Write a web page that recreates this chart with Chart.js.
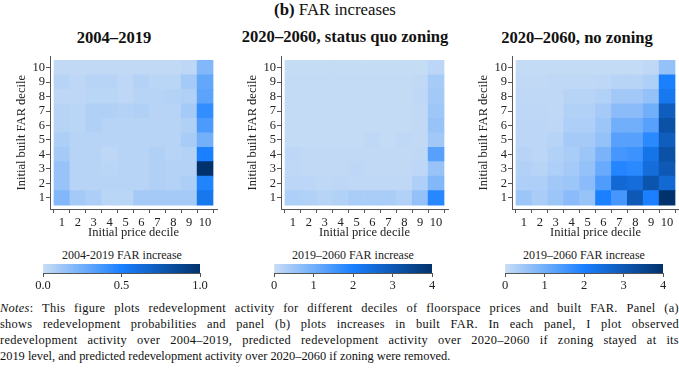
<!DOCTYPE html>
<html><head><meta charset="utf-8">
<script src="https://cdn.jsdelivr.net/npm/chart.js@4/dist/chart.umd.min.js"></script>
<style>
html,body{margin:0;padding:0;background:#fff;width:679px;height:378px;overflow:hidden;position:relative;font-family:"Liberation Serif",serif;color:#111}
canvas{position:absolute}
.t{position:absolute;white-space:nowrap;transform:translate(-50%,-50%)}
.pt{font-weight:bold;font-size:16.6px}
.cbt{font-size:12px;color:#222}
#notes{position:absolute;left:0;top:300px;width:679px;font-size:12.4px;line-height:16px}
#notes div{text-align:justify;text-align-last:justify;white-space:nowrap;letter-spacing:0.3px}
#notes div.last{text-align-last:left;letter-spacing:0}
</style></head><body>
<div class="t" style="left:335px;top:10px;font-size:16.8px"><b>(b)</b> FAR increases</div>
<div class="t pt" style="left:114px;top:38px">2004–2019</div>
<div class="t pt" style="left:345px;top:37px">2020–2060, status quo zoning</div>
<div class="t pt" style="left:577px;top:38px">2020–2060, no zoning</div>
<canvas id="h1" width="225" height="196" style="left:0px;top:48px;width:225px;height:196px"></canvas>
<canvas id="h2" width="225" height="196" style="left:231px;top:48px;width:225px;height:196px"></canvas>
<canvas id="h3" width="225" height="196" style="left:462px;top:48px;width:225px;height:196px"></canvas>
<div class="t cbt" style="left:122px;top:255px">2004-2019 FAR increase</div>
<div class="t cbt" style="left:353px;top:255px">2019–2060 FAR increase</div>
<div class="t cbt" style="left:584px;top:255px">2019–2060 FAR increase</div>
<canvas id="c1" width="177" height="34" style="left:33px;top:262px;width:177px;height:34px"></canvas>
<canvas id="c2" width="178" height="34" style="left:264px;top:262px;width:178px;height:34px"></canvas>
<canvas id="c3" width="178" height="34" style="left:495px;top:262px;width:178px;height:34px"></canvas>
<div id="notes">
<div><i>Notes</i>: This figure plots redevelopment activity for different deciles of floorspace prices and built FAR. Panel (a)</div>
<div>shows redevelopment probabilities and panel (b) plots increases in built FAR. In each panel, I plot observed</div>
<div>redevelopment activity over 2004–2019, predicted redevelopment activity over 2020–2060 if zoning stayed at its</div>
<div class="last">2019 level, and predicted redevelopment activity over 2020–2060 if zoning were removed.</div>
</div>
<script>
// Categories
const priceDeciles = [1,2,3,4,5,6,7,8,9,10];
const farDeciles = [1,2,3,4,5,6,7,8,9,10];

// FAR increases, rows = initial built FAR decile 1..10, columns = price decile 1..10
const far2004to2019 = [
  [0.20,0.10,0.08,0.04,0.04,0.10,0.10,0.10,0.10,0.56],
  [0.14,0.05,0.05,0.05,0.05,0.05,0.07,0.06,0.08,0.48],
  [0.14,0.05,0.05,0.04,0.05,0.05,0.07,0.06,0.06,1.00],
  [0.10,0.05,0.05,0.03,0.05,0.05,0.07,0.05,0.06,0.50],
  [0.08,0.05,0.05,0.05,0.05,0.05,0.05,0.05,0.09,0.24],
  [0.05,0.04,0.07,0.05,0.05,0.05,0.05,0.05,0.07,0.36],
  [0.05,0.04,0.07,0.07,0.06,0.07,0.05,0.05,0.10,0.43],
  [0.03,0.03,0.04,0.04,0.03,0.05,0.05,0.06,0.07,0.31],
  [0.05,0.03,0.05,0.05,0.03,0.06,0.04,0.04,0.10,0.29],
  [0.02,0.02,0.02,0.02,0.02,0.02,0.02,0.02,0.03,0.20]
];
const farStatusQuo = [
  [0.30,0.25,0.20,0.25,0.35,0.35,0.35,0.25,0.60,1.85],
  [0.15,0.15,0.10,0.12,0.10,0.10,0.10,0.10,0.30,0.80],
  [0.10,0.08,0.08,0.08,0.12,0.08,0.08,0.08,0.12,0.55],
  [0.12,0.08,0.08,0.08,0.08,0.08,0.08,0.08,0.10,1.30],
  [0.05,0.05,0.05,0.05,0.05,0.10,0.05,0.10,0.08,0.45],
  [0.05,0.05,0.05,0.05,0.05,0.05,0.05,0.05,0.08,0.55],
  [0.05,0.05,0.05,0.05,0.05,0.05,0.05,0.05,0.08,0.48],
  [0.05,0.05,0.05,0.05,0.05,0.05,0.05,0.05,0.10,0.42],
  [0.05,0.05,0.05,0.05,0.05,0.05,0.05,0.05,0.08,0.38],
  [0.03,0.03,0.03,0.03,0.03,0.03,0.03,0.03,0.03,0.15]
];
const farNoZoning = [
  [0.50,0.35,0.50,0.70,0.55,2.00,1.50,3.00,2.00,4.00],
  [0.30,0.30,0.45,0.50,0.70,1.40,2.60,2.50,3.10,2.60],
  [0.25,0.20,0.30,0.40,0.60,1.10,1.90,1.80,2.50,3.00],
  [0.20,0.15,0.25,0.35,0.50,0.90,1.50,1.60,2.30,3.20],
  [0.15,0.15,0.20,0.40,0.40,0.60,1.30,1.30,1.80,2.90],
  [0.15,0.15,0.12,0.30,0.30,0.50,1.00,1.00,1.30,3.20],
  [0.12,0.12,0.10,0.25,0.25,0.40,0.70,0.70,1.00,2.90],
  [0.10,0.10,0.10,0.20,0.20,0.25,0.45,0.45,0.60,2.20],
  [0.08,0.08,0.10,0.10,0.10,0.12,0.20,0.20,0.30,2.00],
  [0.05,0.05,0.05,0.05,0.05,0.05,0.05,0.05,0.10,0.60]
];

// Colorbar ranges and ticks
const cbMax = [1, 4, 4];
const cbTicks1 = [0, 0.5, 1.0];
const cbTicks2 = [0, 1, 2, 3, 4];

const stops = [[0,[200,221,245]],[0.5,[26,128,255]],[1,[1,50,107]]];
function cmap(t){
  t = Math.max(0, Math.min(1, t));
  for (let i=0;i<stops.length-1;i++){
    const [a,ca]=stops[i],[b,cb]=stops[i+1];
    if (t<=b){
      const u=(t-a)/(b-a);
      const c=ca.map((v,k)=>Math.round(v+(cb[k]-v)*u));
      return `rgb(${c[0]},${c[1]},${c[2]})`;
    }
  }
  return 'rgb(1,50,107)';
}

const FONT = "'Liberation Serif', serif";
const axisColor = '#555';

function heatmap(id, values, vmax){
  const datasets = farDeciles.map((f, ri) => ({
    data: priceDeciles.map(p => ({x: p, y: [f-0.5, f+0.5]})),
    backgroundColor: values[ri].map(v => cmap(v/vmax)),
    borderWidth: 0,
    barPercentage: 1,
    categoryPercentage: 1,
    grouped: false
  }));
  new Chart(document.getElementById(id), {
    type: 'bar',
    data: {datasets},
    options: {
      responsive: false, animation: false,
      layout: {padding: {top: 5, right: 8, left: 0, bottom: 0}},
      plugins: {legend: {display: false}, tooltip: {enabled: false}},
      scales: {
        x: {
          type: 'linear', min: 0.25, max: 10.75, offset: false,
          afterBuildTicks: s => { s.ticks = priceDeciles.map(v => ({value: v})); },
          afterFit: s => { s.height = 35; },
          ticks: {font: {family: FONT, size: 12.5}, color: '#222', padding: 2, maxRotation: 0, autoSkip: false},
          grid: {display: true, drawOnChartArea: false, drawTicks: true, tickLength: 4, color: axisColor},
          border: {display: true, color: axisColor, width: 1},
          title: {display: true, text: 'Initial price decile', font: {family: FONT, size: 12.5}, color: '#222', padding: {top: 0, bottom: 4}}
        },
        y: {
          type: 'linear', min: 0.23, max: 10.77,
          afterBuildTicks: s => { s.ticks = farDeciles.map(v => ({value: v})); },
          afterFit: s => { s.width = 50; },
          ticks: {font: {family: FONT, size: 12.5}, color: '#222', padding: 1, autoSkip: false},
          grid: {display: true, drawOnChartArea: false, drawTicks: true, tickLength: 4, color: axisColor},
          border: {display: true, color: axisColor, width: 1},
          title: {display: true, text: 'Initial built FAR decile', font: {family: FONT, size: 12.5}, color: '#222', padding: {top: 14, bottom: 0}}
        }
      }
    }
  });
}

function colorbar(id, vmax, ticks, fmt){
  new Chart(document.getElementById(id), {
    type: 'bar',
    data: {labels: [''], datasets: [{
      data: [[0, vmax]],
      backgroundColor: ctx => {
        const a = ctx.chart.chartArea;
        if (!a) return cmap(0.5);
        const g = ctx.chart.ctx.createLinearGradient(a.left, 0, a.right, 0);
        for (let i=0;i<=20;i++) g.addColorStop(i/20, cmap(i/20));
        return g;
      },
      borderWidth: 0, barPercentage: 1, categoryPercentage: 1
    }]},
    options: {
      indexAxis: 'y', responsive: false, animation: false,
      layout: {padding: {top: 2, left: 10, right: 10, bottom: 0}},
      plugins: {legend: {display: false}, tooltip: {enabled: false}},
      scales: {
        y: {display: false},
        x: {
          type: 'linear', min: 0, max: vmax,
          afterBuildTicks: s => { s.ticks = ticks.map(v => ({value: v})); },
          afterFit: s => { s.height = 23; },
          ticks: {font: {family: FONT, size: 12.5}, color: '#222', padding: 1, maxRotation: 0, callback: v => fmt(v)},
          grid: {display: true, drawOnChartArea: false, drawTicks: true, tickLength: 4, color: axisColor},
          border: {display: true, color: axisColor, width: 1}
        }
      }
    }
  });
}

heatmap('h1', far2004to2019, cbMax[0]);
heatmap('h2', farStatusQuo, cbMax[1]);
heatmap('h3', farNoZoning, cbMax[2]);
colorbar('c1', cbMax[0], cbTicks1, v => v.toFixed(1));
colorbar('c2', cbMax[1], cbTicks2, v => String(v));
colorbar('c3', cbMax[2], cbTicks2, v => String(v));
</script>
</body></html>
